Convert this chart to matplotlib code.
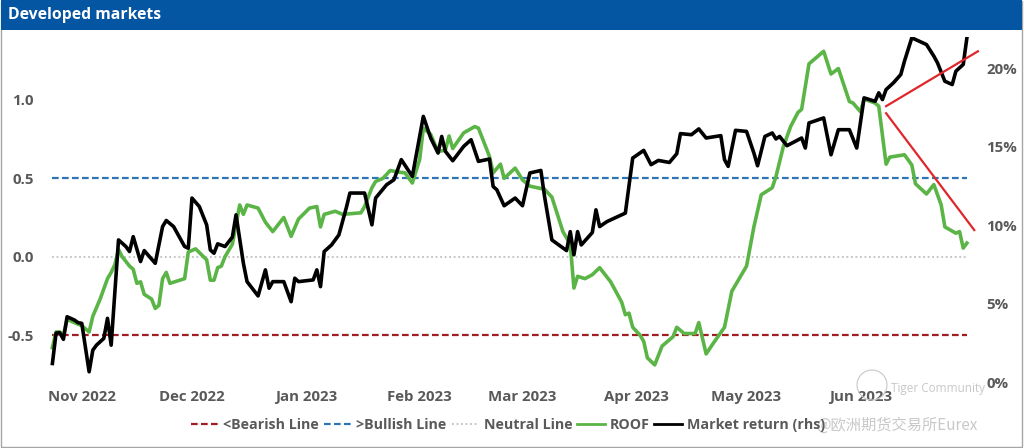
import numpy as np
import pandas as pd
import matplotlib
matplotlib.use('Agg')
import matplotlib.pyplot as plt
from matplotlib.patches import Rectangle, Ellipse
from matplotlib.lines import Line2D
from matplotlib.ticker import FuncFormatter

plt.rcParams['font.family'] = ['Open Sans', 'DejaVu Sans']
plt.rcParams['font.weight'] = 'bold'

# day offsets are counted from 1 Nov 2022
start = pd.Timestamp('2022-11-01')

# ROOF indicator (left axis)
roof_days = [-8, -7, -6, -5, -4, -1, 0, 2, 3, 5, 7, 8, 9, 10, 11, 13, 14, 15, 16, 17,
             19, 20, 21, 22, 23, 24, 28, 29, 31, 34, 35, 36, 37, 38, 39, 41, 43, 44, 45, 48,
             50, 52, 55, 57, 59, 62, 64, 65, 66, 69, 71, 76, 77, 79, 80, 82, 84, 86, 88, 90,
             92, 93, 95, 97, 99, 100, 101, 104, 107, 108, 111, 112, 114, 115, 118, 120, 122, 126, 128, 131,
             133, 134, 135, 137, 139, 141, 144, 147, 148, 149, 150, 152, 153, 154, 156, 158, 161, 162, 164, 167,
             168, 170, 172, 175, 177, 178, 181, 183, 185, 188, 189, 191, 193, 195, 196, 198, 202, 204, 206, 209,
             210, 212, 213, 216, 217, 219, 220, 224, 226, 227, 230, 232, 234, 235, 238, 239, 240, 241]
roof = [-0.58, -0.48, -0.48, -0.50, -0.40, -0.43, -0.44, -0.48, -0.38, -0.27, -0.14, -0.10, -0.05, 0.045, 0.00, -0.06, -0.08, -0.17, -0.16, -0.24,
        -0.27, -0.33, -0.31, -0.14, -0.10, -0.17, -0.14, 0.03, 0.05, -0.02, -0.15, -0.15, -0.07, -0.06, 0.00, 0.08, 0.33, 0.27, 0.33, 0.31,
        0.22, 0.16, 0.25, 0.13, 0.24, 0.31, 0.32, 0.19, 0.27, 0.29, 0.27, 0.28, 0.32, 0.44, 0.48, 0.50, 0.55, 0.54, 0.535, 0.47,
        0.62, 0.82, 0.78, 0.67, 0.68, 0.77, 0.69, 0.79, 0.83, 0.82, 0.64, 0.535, 0.59, 0.50, 0.565, 0.49, 0.45, 0.43, 0.38, 0.16,
        0.08, -0.20, -0.125, -0.14, -0.115, -0.07, -0.16, -0.29, -0.37, -0.36, -0.45, -0.50, -0.54, -0.645, -0.69, -0.57, -0.51, -0.45, -0.49, -0.49,
        -0.42, -0.62, -0.55, -0.45, -0.22, -0.18, -0.06, 0.19, 0.395, 0.44, 0.51, 0.70, 0.83, 0.92, 0.94, 1.23, 1.31, 1.165, 1.20, 0.99,
        0.98, 0.925, 1.005, 0.98, 0.96, 0.59, 0.635, 0.65, 0.585, 0.465, 0.40, 0.46, 0.33, 0.19, 0.15, 0.16, 0.055, 0.087]

# market return in % (right axis)
mkt_days = [-8, -7, -6, -5, -4, -2, -1, 0, 2, 3, 4, 6, 7, 8, 10, 12, 13, 14, 16, 17,
            20, 22, 23, 25, 28, 29, 30, 32, 34, 35, 36, 37, 39, 41, 42, 44, 45, 48, 50, 51,
            52, 55, 57, 58, 59, 63, 64, 65, 66, 68, 70, 72, 73, 77, 79, 80, 83, 85, 87, 90,
            93, 95, 97, 98, 99, 101, 104, 106, 108, 111, 112, 113, 115, 118, 120, 122, 125, 126, 128, 132,
            133, 134, 135, 136, 139, 140, 141, 143, 147, 148, 150, 153, 155, 157, 160, 162, 163, 166, 168, 170,
            174, 175, 176, 178, 181, 183, 184, 186, 188, 189, 190, 192, 196, 197, 198, 202, 204, 206, 209, 211,
            213, 216, 217, 218, 219, 221, 223, 224, 226, 230, 232, 233, 235, 237, 238, 240, 241]
mkt = [1.19, 3.13, 3.15, 2.73, 4.17, 3.96, 3.79, 3.75, 0.66, 2.04, 2.36, 2.79, 4.07, 2.36, 9.07, 8.65, 8.33, 9.28, 7.69, 8.39,
       7.58, 9.92, 10.31, 9.92, 8.65, 8.54, 11.74, 11.20, 10.03, 8.43, 8.22, 8.82, 8.65, 9.25, 10.67, 7.58, 6.41, 5.50, 7.16, 5.99,
       6.41, 6.41, 5.13, 6.63, 6.41, 6.52, 7.16, 6.09, 8.33, 8.75, 9.39, 11.10, 12.06, 12.06, 10.03, 11.74, 12.59, 12.91, 14.19, 13.12,
       16.95, 15.57, 14.61, 15.67, 14.72, 14.12, 15.04, 15.46, 14.08, 14.23, 12.48, 12.27, 11.25, 11.74, 11.25, 13.34, 13.50, 11.84, 9.07, 8.39,
       9.60, 8.12, 9.60, 8.75, 9.54, 10.99, 9.92, 10.24, 10.67, 10.78, 14.29, 14.78, 13.87, 14.14, 14.01, 14.57, 15.85, 15.78, 16.15, 15.57,
       15.72, 14.19, 13.76, 16.06, 15.99, 14.61, 13.80, 15.67, 15.89, 15.51, 15.67, 15.08, 15.57, 14.93, 16.53, 16.85, 14.50, 16.10, 16.10, 14.93,
       18.13, 17.91, 18.45, 18.02, 18.66, 19.09, 19.62, 20.47, 21.96, 21.53, 20.79, 20.36, 19.19, 18.98, 19.83, 20.26, 21.96]

# signal levels
bearish = -0.5
bullish = 0.5
neutral = 0.0

# hand drawn trend marks (left axis units)
trend_up_days = [219, 244]
trend_up = [0.96, 1.31]
trend_down_days = [219, 243]
trend_down = [0.915, 0.17]

month_ticks = pd.date_range('2022-11-01', '2023-06-01', freq='MS')

grey = '#595959'


def to_dates(days):
    return start + pd.to_timedelta(days, unit='D')


fig = plt.figure(figsize=(10.24, 4.48), dpi=100)
ax = fig.add_axes([0.044, 0.147, 0.911, 0.770])
ax2 = ax.twinx()

rd = to_dates(roof_days)
md = to_dates(mkt_days)
span = [rd[0], rd[-1]]

ax.plot(span, [bearish, bearish], color='#A01E22', lw=1.6, dashes=(3, 1.5))
ax.plot(span, [bullish, bullish], color='#2E75B6', lw=1.6, dashes=(3, 1.5))
ax.plot(span, [neutral, neutral], color='#C0C0C0', lw=1.3, dashes=(1, 1.5))
ax.plot(rd, roof, color='#5BB546', lw=2.6, solid_joinstyle='round')

ax2.plot(md, mkt, color='black', lw=2.6, solid_joinstyle='round')
ax2.plot(to_dates(trend_up_days), np.array(trend_up) * 10 + 8, color='#E0262B', lw=1.6, clip_on=False)
ax2.plot(to_dates(trend_down_days), np.array(trend_down) * 10 + 8, color='#E0262B', lw=1.6, clip_on=False)

ax.set_xlim(to_dates([-10])[0], to_dates([244])[0])
ax.set_ylim(-0.8, 1.4)
ax2.set_ylim(0, 22)

ax.set_yticks([-0.5, 0.0, 0.5, 1.0])
ax.yaxis.set_major_formatter(FuncFormatter(lambda v, p: f'{v:.1f}'))
ax2.set_yticks([0, 5, 10, 15, 20])
ax2.yaxis.set_major_formatter(FuncFormatter(lambda v, p: f'{v:.0f}%'))
ax.set_xticks(month_ticks)
ax.set_xticklabels([d.strftime('%b %Y') for d in month_ticks])

for a in (ax, ax2):
    for s in a.spines.values():
        s.set_visible(False)
    a.tick_params(length=0, labelsize=10.8, labelcolor=grey)
ax.tick_params(axis='y', pad=8)
ax.tick_params(axis='x', pad=6)
ax2.tick_params(axis='y', pad=6)

# title bar and frame
fig.patches.append(Rectangle((0.001, 0.002), 0.997, 0.995, transform=fig.transFigure,
                             facecolor='none', edgecolor='#A6A6A6', lw=1))
fig.patches.append(Rectangle((0.001, 1 - 30 / 448), 0.997, 30 / 448, transform=fig.transFigure,
                             facecolor='#0455A2', edgecolor='none'))
fig.text(8 / 1024, 1 - 15 / 448, 'Developed markets', color='white', fontsize=11.3,
         fontweight='bold', va='center', ha='left')

handles = [Line2D([], [], color='#A01E22', lw=1.6, dashes=(3, 1.5)),
           Line2D([], [], color='#2E75B6', lw=1.6, dashes=(3, 1.5)),
           Line2D([], [], color='#C0C0C0', lw=1.3, dashes=(1, 1.5)),
           Line2D([], [], color='#5BB546', lw=2),
           Line2D([], [], color='black', lw=2)]
labels = ['<Bearish Line', '>Bullish Line', 'Neutral Line', 'ROOF', 'Market return (rhs)']
fig.legend(handles, labels, loc='center', bbox_to_anchor=(508 / 1024, 1 - 425 / 448), ncol=5,
           frameon=False, handlelength=1.9, columnspacing=0.35, handletextpad=0.35,
           prop={'size': 10.3, 'weight': 'bold'}, labelcolor=grey)

# watermark
fig.patches.append(Ellipse((872 / 1024, 1 - 385 / 448), 30 / 1024, 30 / 448, transform=fig.transFigure,
                           facecolor='none', edgecolor='#C8C8C8', lw=0.8))
fig.text(891 / 1024, 1 - 388 / 448, 'Tiger Community', color='#C8C8C8', fontsize=8.5,
         fontweight='normal', va='center', ha='left')
fig.text(816 / 1024, 1 - 425 / 448, '@欧洲期货交易所Eurex', color='#C8C8C8', fontsize=11,
         fontweight='normal', va='center', ha='left', family=['Noto Sans CJK SC', 'DejaVu Sans'])

fig.savefig('out.png', dpi=100)
